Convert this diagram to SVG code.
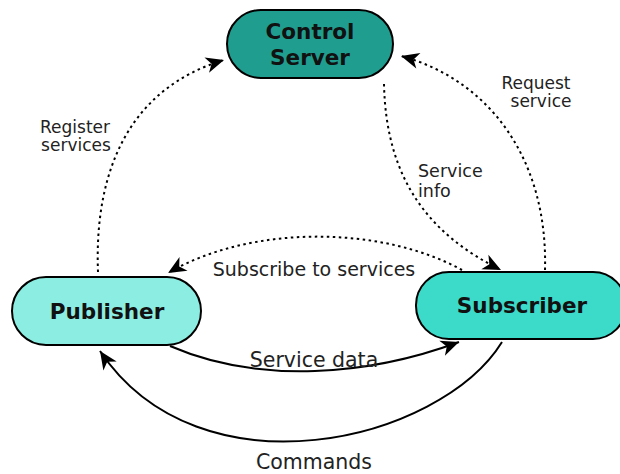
<svg xmlns="http://www.w3.org/2000/svg" width="620" height="474" viewBox="0 0 620 474">
<defs>
<marker id="arr" viewBox="-20 -9 22 18" refX="0" refY="0" markerWidth="22" markerHeight="18" markerUnits="userSpaceOnUse" orient="auto">
<path d="M0,0 L-18,-8 L-13,0 L-18,8 Z" fill="#000"/>
</marker>
</defs>
<style>
.node{stroke:#000;stroke-width:2}
.nl{font-family:"DejaVu Sans",sans-serif;font-weight:bold;font-size:21.5px;fill:#111;text-anchor:middle}
.lb{font-family:"DejaVu Sans",sans-serif;fill:#222}
.dot{fill:none;stroke:#000;stroke-width:2;stroke-dasharray:2.5 3.5}
.sol{fill:none;stroke:#000;stroke-width:2}
</style>
<rect width="620" height="474" fill="#fff"/>
<g id="connectors">
<path class="dot" d="M98,272 C94,170 130,88 224,60" marker-end="url(#arr)"/>
<path class="dot" d="M545,270 C548,160 490,80 401,56" marker-end="url(#arr)"/>
<path class="dot" d="M384,84 C386,180 430,235 501,270" marker-end="url(#arr)"/>
<path class="dot" d="M462,270 C380,225 250,225 168,273" marker-end="url(#arr)"/>
<path class="sol" d="M170,346 C260,385 370,375 459,342" marker-end="url(#arr)"/>
<path class="sol" d="M502,342 C440,442 200,500 100,351" marker-end="url(#arr)"/>
</g>
<g id="label-register"><text class="lb" font-size="17" x="75" y="133" text-anchor="middle">Register</text><text class="lb" font-size="17" x="76" y="151" text-anchor="middle">services</text></g>
<g id="label-request"><text class="lb" font-size="17" x="536" y="89" text-anchor="middle">Request</text><text class="lb" font-size="17" x="541" y="107" text-anchor="middle">service</text></g>
<g id="label-info"><text class="lb" font-size="17.5" x="418" y="177">Service</text><text class="lb" font-size="17.5" x="418" y="197">info</text></g>
<g id="label-subscribe"><text class="lb" font-size="19" x="314" y="276" text-anchor="middle">Subscribe to services</text></g>
<g id="label-data"><text class="lb" font-size="20.5" x="314" y="367" text-anchor="middle">Service data</text></g>
<g id="label-commands"><text class="lb" font-size="20.5" x="314" y="469" text-anchor="middle">Commands</text></g>
<g id="control-server">
<rect class="node" x="227" y="10" width="166" height="68" rx="34" fill="#1f9e8f"/>
<text class="nl" x="310" y="39">Control</text>
<text class="nl" x="310" y="65">Server</text>
</g>
<g id="publisher">
<rect class="node" x="12" y="277" width="189" height="68" rx="34" fill="#8ceee2"/>
<text class="nl" x="107" y="319">Publisher</text>
</g>
<g id="subscriber">
<rect class="node" x="416" y="272" width="210" height="67" rx="33" fill="#3cdac8"/>
<text class="nl" x="522" y="313">Subscriber</text>
</g>
</svg>
